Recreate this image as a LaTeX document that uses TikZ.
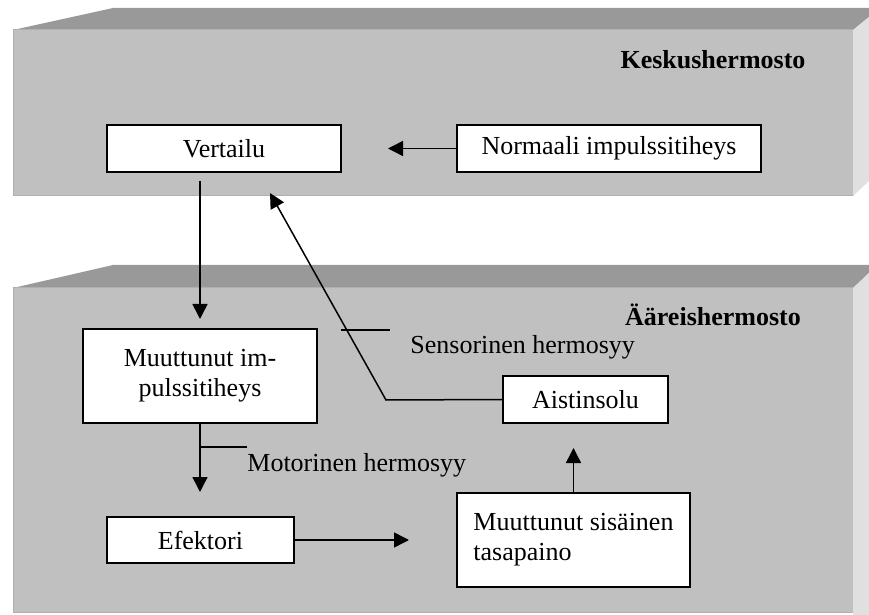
\documentclass[tikz,border=0pt]{standalone}
\usepackage{fontspec}
\setmainfont{Liberation Serif}
\usepackage{tikz}
\usetikzlibrary{arrows.meta,calc}
\usepackage{xcolor}
\definecolor{facegrey}{RGB}{192,192,192}
\definecolor{topgrey}{RGB}{153,153,153}
\definecolor{sidegrey}{RGB}{224,224,224}
\definecolor{edgegrey}{RGB}{176,176,176}

\begin{document}
\begin{tikzpicture}[
    x=0.5pt, y=-0.5pt,
    box/.style={rectangle, draw=black, line width=1pt, fill=white, minimum height=23.5pt, align=center, inner sep=2pt, font=\fontsize{13}{15}\selectfont},
    label/.style={font=\fontsize{13}{15}\selectfont, inner sep=0pt},
    title/.style={label, font=\fontsize{13}{15}\selectfont\bfseries},
    arrow/.style={-{Triangle[length=7.5pt,width=7.5pt]}, line width=0.75pt}
]
\useasboundingbox (0,0) rectangle (869,615);

% upper slab
\fill[topgrey] (13,30) -- (113,8) -- (869,8) -- (869,17) -- (853,30) -- cycle;
\fill[facegrey, draw=edgegrey, line width=0.5pt] (13,30) rectangle (853,196);
\fill[sidegrey] (853,30) -- (869,17) -- (869,181) -- (853,196) -- cycle;

% lower slab
\fill[topgrey] (13,288) -- (113,265) -- (869,265) -- (869,273) -- (853,288) -- cycle;
\fill[facegrey, draw=edgegrey, line width=0.5pt] (13,288) rectangle (853,612);
\fill[sidegrey] (853,288) -- (869,273) -- (869,615) -- (853,615) -- cycle;

\node[title] (kesk) at (713,60) {Keskushermosto};
\node[title] (aare) at (713,315) {Ääreishermosto};

\node[box, minimum width=117pt] (vert) at (224,148.5) {Vertailu};
\node[box, minimum width=152pt] (norm) at (609,148.5) {Normaali impulssitiheys};
\node[box, minimum width=117pt, minimum height=47pt] (muut) at (200,376) {Muuttunut im-\\pulssitiheys};
\node[box, minimum width=93.5pt, minimum height=23pt] (efek) at (200.5,540) {Efektori};
\node[box, minimum width=116.5pt, minimum height=47pt, align=left] (sisa) at (573.5,540) {Muuttunut sisäinen\\tasapaino};
\node[box, minimum width=82.5pt] (aist) at (585.5,399.5) {Aistinsolu};

\node[label, anchor=west] (moto) at (247,465) {Motorinen hermosyy};
\node[label, anchor=west] (sens) at (410,347) {Sensorinen hermosyy};

\coordinate (normtip) at (388,148.5);
\coordinate (vdown) at (200,181);
\coordinate (sbend) at (386,400);
\coordinate (stip) at (270,193);

\draw[arrow] (norm.west) -- (normtip);
\draw[arrow, shorten >=4.5pt] (vdown) -- (muut.north);
\draw[arrow, shorten >=12pt] (muut.south) -- (muut.south |- efek.north);
\draw[line width=0.75pt] ($(muut.south)+(0,23)$) -- ++(47,0);
\draw[arrow, shorten >=23.5pt] (efek.east) -- (sisa.west);
\draw[arrow, shorten >=12pt] (sisa.north) -- (sisa.north |- aist.south);
\draw[arrow] (aist.west) -- (sbend) -- (stip);
\draw[line width=0.75pt] (341,330) -- (390,330);
\end{tikzpicture}
\end{document}
